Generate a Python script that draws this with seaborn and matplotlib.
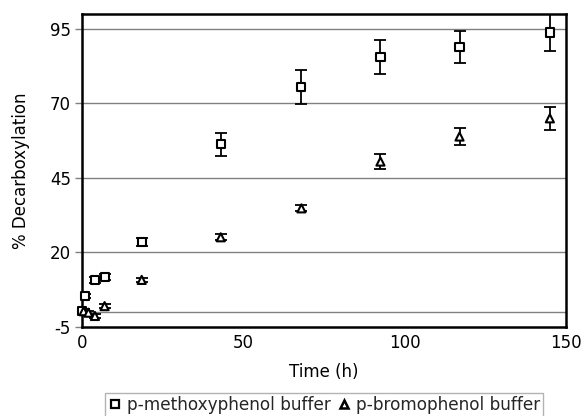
import matplotlib
matplotlib.use("Agg")
import matplotlib.pyplot as plt
import seaborn as sns
import pandas as pd
from matplotlib.lines import Line2D

# ---- data ----
time_methoxy = [0, 1, 4, 7, 18.5, 43, 68, 92.5, 117, 145]
val_methoxy = [0.3, 5.4, 10.8, 11.7, 23.6, 56.3, 75.5, 85.6, 88.9, 93.8]
err_methoxy = [0.8, 0.8, 1.0, 1.0, 1.3, 3.9, 5.7, 5.8, 5.3, 6.2]

time_bromo = [0.5, 2, 4, 7, 18.5, 43, 68, 92.5, 117, 145]
val_bromo = [0.3, -0.2, -1.3, 2.0, 10.8, 25.1, 34.8, 50.5, 58.9, 65.0]
err_bromo = [0.7, 0.7, 0.7, 0.7, 0.8, 1.0, 1.0, 2.5, 3.0, 3.9]

series_names = ["p-methoxyphenol buffer", "p-bromophenol buffer"]
x_ticks = [0, 50, 100, 150]
y_ticks = [-5, 20, 45, 70, 95]

df = pd.DataFrame({
    "Time (h)": time_methoxy + time_bromo,
    "val": val_methoxy + val_bromo,
    "err": err_methoxy + err_bromo,
    "series": [series_names[0]] * len(time_methoxy) + [series_names[1]] * len(time_bromo),
})

sns.set_theme(style="white")
plt.rcParams["font.family"] = ["DejaVu Sans"]
plt.rcParams["axes.unicode_minus"] = False

fig = plt.figure(figsize=(5.84, 4.16), dpi=100)
ax = fig.add_axes([82 / 584, 89 / 416, (566 - 82) / 584, (327 - 14) / 416])

ax.set_xlim(0, 150)
ax.set_ylim(-5, 100)

# grid lines and zero line
for yt in y_ticks[1:]:
    ax.axhline(yt, color="#808080", lw=1.0, zorder=0)
ax.axhline(0, color="#808080", lw=1.0, zorder=0)

markers = {series_names[0]: "s", series_names[1]: "^"}
for name in series_names:
    sub = df[df["series"] == name]
    ax.errorbar(sub["Time (h)"], sub["val"], yerr=sub["err"], fmt="none",
                ecolor="black", elinewidth=1.3, capsize=4.5, capthick=1.3, zorder=2)

sns.scatterplot(data=df, x="Time (h)", y="val", style="series", markers=markers,
                s=34, color="white", edgecolor="black", linewidth=1.5,
                legend=False, ax=ax, zorder=3, clip_on=False)

ax.set_xticks(x_ticks)
ax.set_yticks(y_ticks)
ax.tick_params(axis="y", direction="out", length=5, width=1, color="#808080",
               labelsize=12, pad=3, left=True, labelcolor="black")
ax.tick_params(axis="x", length=0, labelsize=12, pad=5, labelcolor="black")

for sp in ax.spines.values():
    sp.set_color("black")
    sp.set_linewidth(1.8)

ax.set_xlabel("Time (h)", fontsize=12, labelpad=8, color="black")
ax.set_ylabel("% Decarboxylation", fontsize=12, labelpad=14, color="black")

handles = [
    Line2D([], [], marker="s", linestyle="none", markersize=6, markerfacecolor="white",
           markeredgecolor="black", markeredgewidth=1.6),
    Line2D([], [], marker="^", linestyle="none", markersize=6, markerfacecolor="white",
           markeredgecolor="black", markeredgewidth=1.8),
]
leg = fig.legend(handles, series_names, loc="center", bbox_to_anchor=(324 / 584, 1 - 405 / 416),
                 ncol=2, frameon=True, fancybox=False, edgecolor="#a0a0a0", fontsize=12.2,
                 handlelength=0.8, handletextpad=0.3, columnspacing=0.4, borderpad=0.15,
                 borderaxespad=0)
leg.get_frame().set_linewidth(1.0)

fig.savefig("out.png", dpi=100)
